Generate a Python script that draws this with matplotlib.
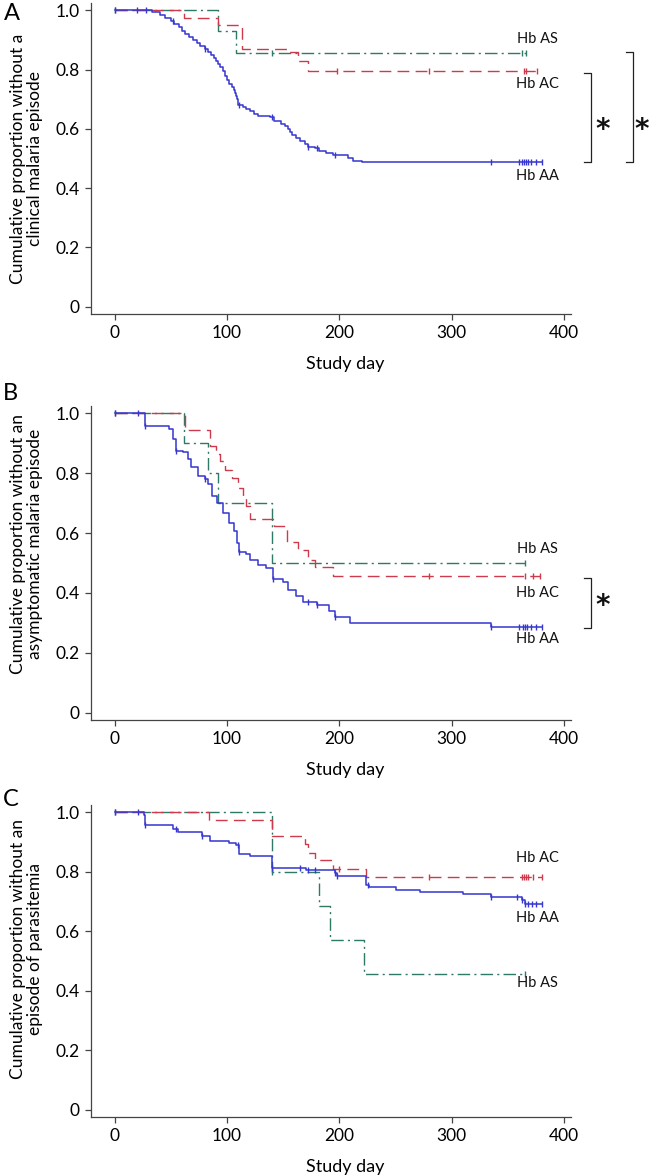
import numpy as np
import matplotlib.pyplot as plt

plt.rcParams['font.family'] = ['Lato', 'DejaVu Sans']

BLUE = '#3636d0'
RED = '#cc3a4c'
TEAL = '#2f7a66'
AXCOL = '#444444'

# ---------- Panel A: clinical malaria ----------
a_aa_t = [0, 33, 40, 45, 50, 53, 57, 60, 63, 66, 70, 73, 76, 80, 83, 86, 88, 90, 92, 94,
          96, 98, 100, 102, 104, 106, 107, 108, 109, 110, 114, 117, 120, 124, 128, 138, 142,
          148, 152, 154, 156, 158, 161, 165, 169, 172, 178, 182, 188, 194, 208, 212, 220]
a_aa_s = [1.0, 0.995, 0.985, 0.975, 0.965, 0.955, 0.945, 0.93, 0.92, 0.91, 0.90, 0.89, 0.88,
          0.87, 0.86, 0.85, 0.84, 0.83, 0.82, 0.81, 0.795, 0.78, 0.765, 0.75, 0.74, 0.73, 0.72,
          0.71, 0.70, 0.68, 0.675, 0.668, 0.66, 0.65, 0.645, 0.64, 0.625, 0.615, 0.61, 0.60,
          0.59, 0.58, 0.57, 0.56, 0.55, 0.54, 0.535, 0.525, 0.52, 0.513, 0.50, 0.49, 0.487]
a_aa_cens = [0, 20, 28, 52, 80, 111, 140, 172, 180, 196, 335, 360, 362, 364, 366, 368, 370, 375, 380]
a_aa_end = 380

a_ac_t = [0, 62, 92, 113, 153, 163, 172]
a_ac_s = [1.0, 0.975, 0.95, 0.87, 0.86, 0.83, 0.795]
a_ac_cens = [198, 280, 364, 366, 376]
a_ac_end = 376

a_as_t = [0, 92, 108]
a_as_s = [1.0, 0.93, 0.857]
a_as_cens = [0, 140, 362, 366]
a_as_end = 366

# ---------- Panel B: asymptomatic malaria ----------
b_aa_t = [0, 27, 48, 52, 55, 61, 65, 68, 74, 80, 83, 87, 91, 96, 102, 106, 109, 111, 117,
          120, 128, 135, 141, 150, 154, 161, 168, 180, 191, 196, 209, 335]
b_aa_s = [1.0, 0.957, 0.947, 0.914, 0.875, 0.871, 0.847, 0.82, 0.79, 0.78, 0.763, 0.724,
          0.70, 0.668, 0.634, 0.606, 0.567, 0.536, 0.531, 0.511, 0.494, 0.483, 0.447, 0.438,
          0.41, 0.388, 0.371, 0.36, 0.338, 0.319, 0.30, 0.285]
b_aa_cens = [0, 21, 27, 55, 80, 111, 141, 172, 180, 196, 335, 360, 363, 365, 367, 370, 375, 380]
b_aa_end = 380

b_ac_t = [0, 63, 85, 90, 94, 98, 104, 110, 114, 117, 120, 142, 153, 163, 172, 178, 194]
b_ac_s = [1.0, 0.945, 0.89, 0.865, 0.84, 0.81, 0.785, 0.75, 0.72, 0.69, 0.648, 0.623,
          0.57, 0.545, 0.51, 0.487, 0.458]
b_ac_cens = [280, 365, 372, 378]
b_ac_end = 378

b_as_t = [0, 62, 83, 92, 140]
b_as_s = [1.0, 0.90, 0.80, 0.70, 0.50]
b_as_cens = [0, 365]
b_as_end = 365

# ---------- Panel C: parasitemia ----------
c_aa_t = [0, 26, 27, 52, 56, 78, 85, 102, 108, 111, 120, 140, 170, 196, 198, 224, 226,
          250, 272, 310, 335, 362, 365]
c_aa_s = [1.0, 0.99, 0.957, 0.945, 0.935, 0.92, 0.905, 0.898, 0.89, 0.86, 0.855, 0.813,
          0.805, 0.795, 0.787, 0.757, 0.748, 0.74, 0.733, 0.725, 0.715, 0.705, 0.693]
c_aa_cens = [0, 21, 27, 55, 78, 110, 140, 165, 172, 178, 196, 198, 225, 335, 358, 362,
             365, 368, 371, 375, 380]
c_aa_end = 380

c_ac_t = [0, 84, 140, 169, 172, 178, 194, 224]
c_ac_s = [1.0, 0.975, 0.92, 0.895, 0.865, 0.84, 0.81, 0.783]
c_ac_cens = [200, 280, 362, 364, 366, 368, 372, 380]
c_ac_end = 380

c_as_t = [0, 140, 182, 192, 222]
c_as_s = [1.0, 0.80, 0.685, 0.57, 0.457]
c_as_cens = [0, 140, 365]
c_as_end = 365

ylabels = ['Cumulative proportion without a\nclinical malaria episode',
           'Cumulative proportion without an\nasymptomatic malaria episode',
           'Cumulative proportion without an\nepisode of parasitemia']
panel_letters = ['A', 'B', 'C']

DASH = (0, (8.5, 4.5))
DASHDOT = (0, (9, 3, 1.5, 3))


def km(ax, t, s, cens, end, color, ls, lw=1.0):
    ax.step(list(t) + [end], list(s) + [s[-1]], where='post', color=color,
            linestyle=ls, lw=lw)
    idx = np.searchsorted(t, cens, side='right') - 1
    ax.plot(cens, np.array(s)[idx], ls='none', marker='|', ms=5, mew=1.0, color=color)


def bracket(ax, x, y0, y1, w=5.5):
    ax.plot([x - w, x, x, x - w], [y0, y0, y1, y1], color='#222222', lw=0.9, clip_on=False)


def star(ax, x, y):
    ax.text(x, y, '*', fontsize=20, fontweight='bold', ha='center', va='center',
            clip_on=False, family='DejaVu Sans', color='#111111')


fig = plt.figure(figsize=(6.5, 11.75), dpi=100)
W, H = 650, 1175
# axes boxes in pixels: left, top, right, bottom
boxes = [(91, 3, 571, 314), (91, 406, 571, 720), (91, 805, 571, 1117)]
axes = []
for (l, t, r, b) in boxes:
    ax = fig.add_axes([l / W, 1 - b / H, (r - l) / W, (b - t) / H])
    axes.append(ax)

curves = [
    [(a_aa_t, a_aa_s, a_aa_cens, a_aa_end, BLUE, '-', 1.1),
     (a_ac_t, a_ac_s, a_ac_cens, a_ac_end, RED, DASH, 1.0),
     (a_as_t, a_as_s, a_as_cens, a_as_end, TEAL, DASHDOT, 1.0)],
    [(b_aa_t, b_aa_s, b_aa_cens, b_aa_end, BLUE, '-', 1.1),
     (b_ac_t, b_ac_s, b_ac_cens, b_ac_end, RED, DASH, 1.0),
     (b_as_t, b_as_s, b_as_cens, b_as_end, TEAL, DASHDOT, 1.0)],
    [(c_aa_t, c_aa_s, c_aa_cens, c_aa_end, BLUE, '-', 1.1),
     (c_ac_t, c_ac_s, c_ac_cens, c_ac_end, RED, DASH, 1.0),
     (c_as_t, c_as_s, c_as_cens, c_as_end, TEAL, DASHDOT, 1.0)],
]

group_labels = [
    [('Hb AS', 0.905), ('Hb AC', 0.75), ('Hb AA', 0.44)],
    [('Hb AS', 0.547), ('Hb AC', 0.40), ('Hb AA', 0.245)],
    [('Hb AC', 0.845), ('Hb AA', 0.646), ('Hb AS', 0.427)],
]
label_y = [0.5, 0.56, 0.54]
letter_pos = [(12, 14), (10, 394), (11, 799)]

for i, ax in enumerate(axes):
    # AS first so blue sits on top
    for c in curves[i][::-1]:
        km(ax, *c)
    ax.set_xlim(-21, 406)
    ax.set_ylim(-0.025, 1.025)
    ax.set_xticks([0, 100, 200, 300, 400])
    ax.set_yticks([0, 0.2, 0.4, 0.6, 0.8, 1.0])
    ax.set_yticklabels(['0', '0.2', '0.4', '0.6', '0.8', '1.0'])
    for side in ['top', 'right']:
        ax.spines[side].set_visible(False)
    for side in ['left', 'bottom']:
        ax.spines[side].set_color(AXCOL)
        ax.spines[side].set_linewidth(0.9)
    ax.tick_params(direction='out', length=4, width=0.9, color=AXCOL, labelsize=12.5, pad=4)
    ax.set_xlabel('Study day', fontsize=13)
    ax.xaxis.set_label_coords(0.53, -0.135)
    ax.set_ylabel(ylabels[i], fontsize=12.5, linespacing=1.05, va='center')
    ax.yaxis.set_label_coords(-0.135, label_y[i])
    for txt, yy in group_labels[i]:
        ax.text(376, yy, txt, ha='center', va='center', fontsize=10.5, color='#111111')
    fig.text(letter_pos[i][0] / W, 1 - letter_pos[i][1] / H, panel_letters[i],
             fontsize=17, ha='center', va='center')

# significance brackets
bracket(axes[0], 423.5, 0.789, 0.487)
star(axes[0], 434, 0.595)
bracket(axes[0], 460.8, 0.858, 0.487)
star(axes[0], 469, 0.595)

bracket(axes[1], 423.5, 0.45, 0.282)
star(axes[1], 434, 0.355)

fig.savefig('out.png', dpi=100)
